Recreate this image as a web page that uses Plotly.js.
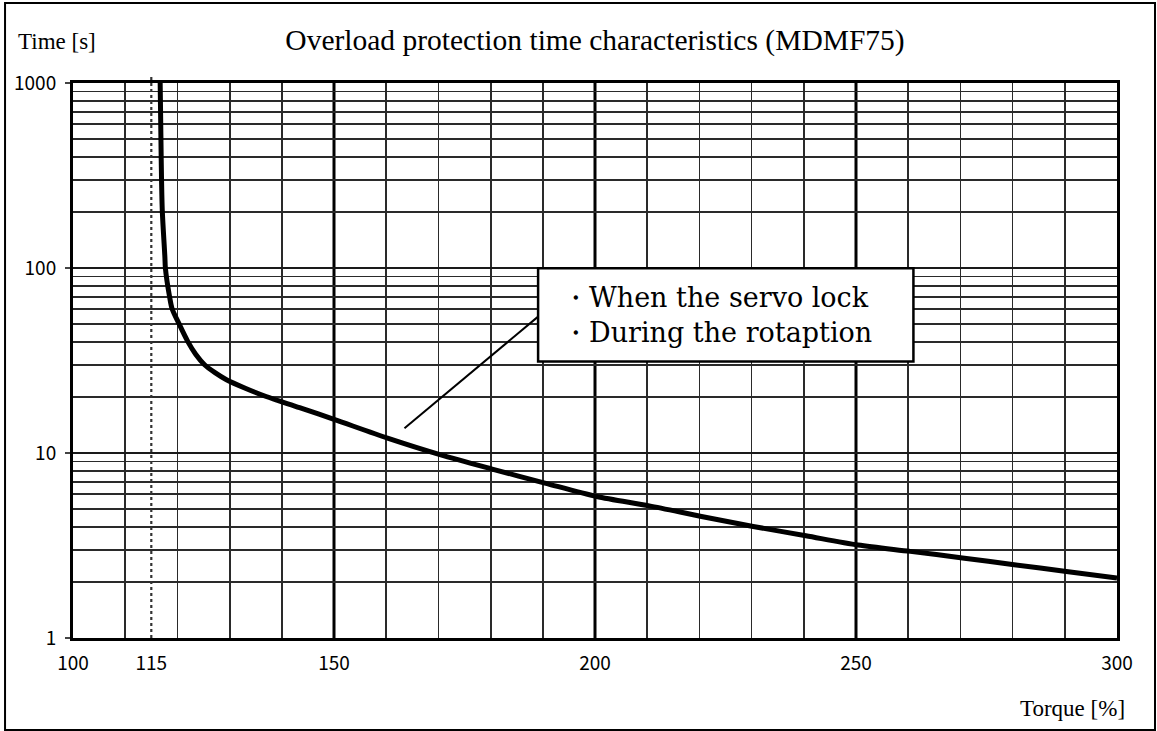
<!DOCTYPE html>
<html>
<head>
<meta charset="utf-8">
<script src="https://cdn.plot.ly/plotly-3.0.1.min.js"></script>
<style>
  html, body { margin: 0; padding: 0; background: #fff; }
  #chart { width: 1157px; height: 731px; }
</style>
</head>
<body>
<div id="chart"></div>
<script>
// Curve: torque [%] vs overload protection time [s]
const torque = [116.7, 116.9, 117.1, 117.6, 117.7, 118.5, 119.0, 120.3, 122.0, 123.5, 125.2, 127.2, 129.4, 133.0, 137.0, 143.4, 150.0, 160.4, 170.3, 180.3, 190.4, 200.3, 210.4, 220.4, 230.3, 240.4, 250.4, 260.4, 270.4, 280.3, 290.3, 300.0];
const timeS  = [1000, 384, 206, 115, 100, 70, 60, 50, 40, 34.2, 30, 27.2, 24.9, 22.4, 20.2, 17.6, 15.2, 12.0, 9.8, 8.19, 6.88, 5.82, 5.18, 4.54, 4.01, 3.57, 3.18, 2.94, 2.71, 2.49, 2.29, 2.11];

// Axis ticks
const xTickVals = [100, 115, 150, 200, 250, 300];
const xTickText = ['100', '115', '150', '200', '250', '300'];
const xMinorVals = [110, 120, 130, 140, 160, 170, 180, 190, 210, 220, 230, 240, 260, 270, 280, 290];
const xMajorLines = [150, 200, 250];
const limitTorque = 115;
const yTickVals = [1, 10, 100, 1000];
const yTickText = ['1', '10', '100', '1000'];
const yMinorVals = [];
[1, 10, 100].forEach(d => { for (let k = 2; k <= 9; k++) yMinorVals.push(k * d); });

// Texts
const chartTitle = 'Overload protection time characteristics (MDMF75)';
const yLabel = 'Time [s]';
const xLabel = 'Torque [%]';
const noteLines = ['・When the servo lock', '・During the rotaption'];

const tickFont = { family: 'Noto Sans CJK JP', size: 19, color: '#000' };
const serif = 'Liberation Serif, Times New Roman, serif';

const shapes = [];
xMajorLines.forEach(v => shapes.push({
  type: 'line', xref: 'x', yref: 'paper', x0: v, x1: v, y0: 0, y1: 1,
  layer: 'below', line: { color: '#000', width: 3 }
}));
// dotted line at 115 %
shapes.push({
  type: 'line', xref: 'x', yref: 'paper', x0: limitTorque, x1: limitTorque, y0: 0, y1: 1.011,
  layer: 'above', line: { color: '#333', width: 2.2, dash: 'dot' }
});
// leader line
shapes.push({
  type: 'line', xref: 'x', yref: 'y', x0: 163.5, y0: 13.6, x1: 189.1, y1: 54.6,
  layer: 'above', line: { color: '#000', width: 2 }
});
// note box
shapes.push({
  type: 'rect', xref: 'x', yref: 'y', x0: 189.1, x1: 261.0, y0: 31.2, y1: 99.7,
  layer: 'above', fillcolor: '#fff', line: { color: '#000', width: 2.5 }
});
// outer frame
shapes.push({
  type: 'rect', xref: 'paper', yref: 'paper', x0: -0.0651, x1: 1.0364, y0: -0.1658, y1: 1.1441,
  layer: 'above', line: { color: '#000', width: 2 }
});

const trace = {
  x: torque, y: timeS, type: 'scatter', mode: 'lines',
  line: { color: '#000', width: 5, shape: 'spline', smoothing: 0.8 },
  hoverinfo: 'skip', showlegend: false
};

const layout = {
  width: 1157, height: 731,
  margin: { l: 73, r: 40, t: 83, b: 93, pad: 0 },
  paper_bgcolor: '#fff', plot_bgcolor: '#fff',
  showlegend: false,
  title: {
    text: chartTitle, x: 0.5, xref: 'paper', xanchor: 'center',
    y: 1 - 40 / 731, yref: 'container', yanchor: 'middle',
    font: { family: serif, size: 29.5, color: '#000' }
  },
  xaxis: {
    type: 'linear', range: [100, 300], fixedrange: true,
    tickmode: 'array', tickvals: xTickVals, ticktext: xTickText,
    ticks: '', showgrid: false, zeroline: false,
    showline: true, mirror: true, linecolor: '#000', linewidth: 3,
    tickfont: tickFont, ticklabelstandoff: 6,
    minor: { tickmode: 'array', tickvals: xMinorVals, ticks: '', showgrid: true, gridcolor: '#2a2a2a', gridwidth: 1.8 }
  },
  yaxis: {
    type: 'log', range: [0, 3], fixedrange: true,
    tickmode: 'array', tickvals: yTickVals, ticktext: yTickText,
    ticks: 'outside', ticklen: 5, tickwidth: 1.5, tickcolor: '#444',
    showgrid: true, gridcolor: '#1a1a1a', gridwidth: 1.8, zeroline: false,
    showline: true, mirror: true, linecolor: '#000', linewidth: 3,
    tickfont: tickFont, ticklabelstandoff: 5,
    minor: { tickmode: 'array', tickvals: yMinorVals, ticks: '', showgrid: true, gridcolor: '#2a2a2a', gridwidth: 1.8 }
  },
  shapes: shapes,
  annotations: [
    {
      text: noteLines.join('<br>'), xref: 'x', yref: 'y',
      x: 193.2, y: 1.7466, xanchor: 'left', yanchor: 'middle', align: 'left',
      showarrow: false, font: { family: 'DejaVu Serif', size: 27, color: '#000' }
    },
    {
      text: yLabel, xref: 'paper', yref: 'paper',
      x: (16 - 73) / 1044, y: (638 - 41) / 555, xanchor: 'left', yanchor: 'middle',
      showarrow: false, font: { family: serif, size: 23, color: '#000' }
    },
    {
      text: xLabel, xref: 'paper', yref: 'paper',
      x: (1127 - 73) / 1044, y: (638 - 708) / 555, xanchor: 'right', yanchor: 'middle',
      showarrow: false, font: { family: serif, size: 23, color: '#000' }
    }
  ]
};

Plotly.newPlot('chart', [trace], layout, { displayModeBar: false, staticPlot: true });
</script>
</body>
</html>
